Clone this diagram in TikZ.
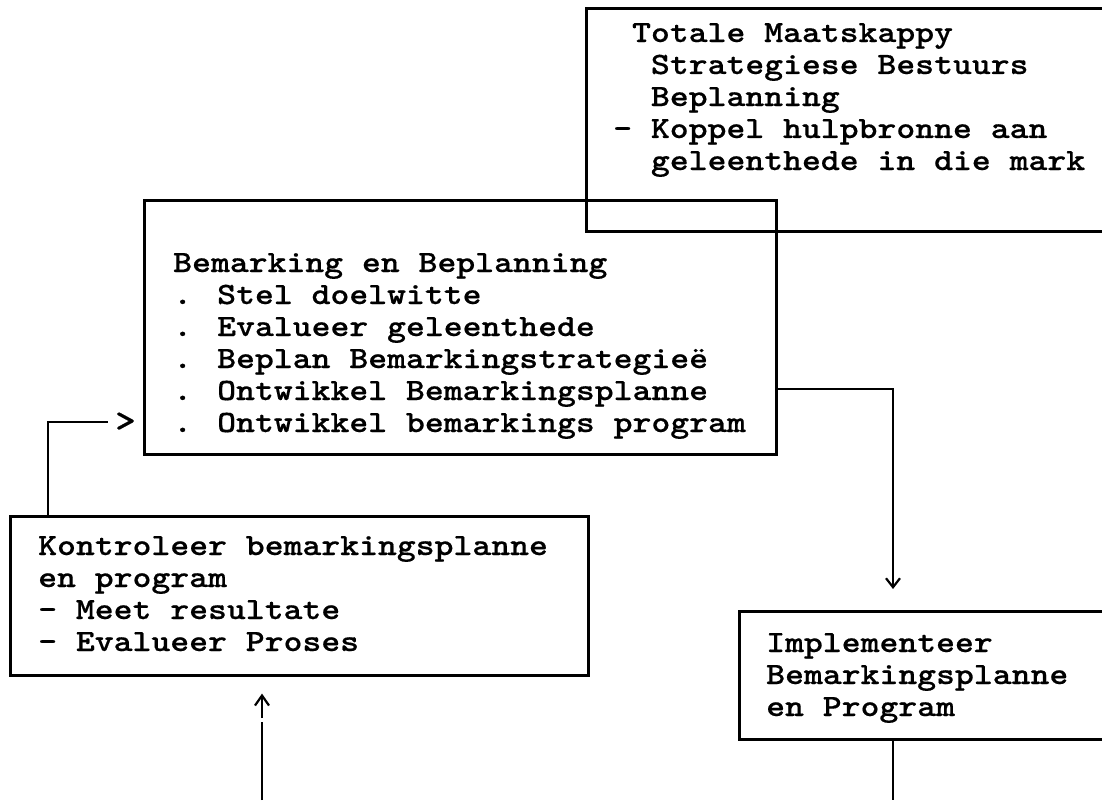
\documentclass[tikz,border=0pt]{standalone}
\usepackage{fontspec}
% heavy slab-serif typewriter face, widened to a 0.6em pitch
\newfontfamily\typewriter{lmmonolt10-bold.otf}[FakeStretch=1.16,FakeBold=0.4]
\usetikzlibrary{arrows.meta,calc}
\tikzset{
  panel/.style={draw, line width=2.6pt, rectangle, inner sep=0pt, anchor=north west},
  boxtext/.style={anchor=base west, inner sep=0pt,
                  font=\typewriter\fontsize{31}{32}\selectfont},
  link/.style={line width=2.2pt},
  downtip/.style={-{Straight Barb[length=9pt,width=14pt]}},
  uptip/.style={-{Straight Barb[length=10pt,width=14pt]}},
}
\begin{document}
\begin{tikzpicture}[x=1pt,y=-1pt]
\useasboundingbox (0,0) rectangle (1102,800);
\clip (0,0) rectangle (1102,800);
\fill[white] (0,0) rectangle (1102,800);

% frames
\node[panel, minimum width=560pt, minimum height=223pt] (strat) at (585,7) {};
\node[panel, minimum width=632pt, minimum height=254pt] (plan)  at (143,199) {};
\node[panel, minimum width=578pt, minimum height=159pt] (ctrl)  at (9,515) {};
\node[panel, minimum width=420pt, minimum height=128pt] (impl)  at (738,610) {};

% texts
\node[boxtext] (strattext) at (613,42) {\begin{tabular}[t]{@{}l@{}}
\hphantom{-}Totale Maatskappy\\
\hphantom{--}Strategiese Bestuurs\\
\hphantom{--}Beplanning\\
-\hphantom{-}Koppel hulpbronne aan\\
\hphantom{--}geleenthede in die mark
\end{tabular}};

\node[boxtext] (plantext) at (173,272) {\begin{tabular}[t]{@{}l@{}}
Bemarking en Beplanning\\
. Stel doelwitte\\
. Evalueer geleenthede\\
. Beplan Bemarkingstrategieë\\
. Ontwikkel Bemarkingsplanne\\
. Ontwikkel bemarkings program
\end{tabular}};

\node[boxtext] (ctrltext) at (38,555) {\begin{tabular}[t]{@{}l@{}}
Kontroleer bemarkingsplanne\\
en program\\
- Meet resultate\\
- Evalueer Proses
\end{tabular}};

\node[boxtext] (impltext) at (766,652) {\begin{tabular}[t]{@{}l@{}}
Implementeer\\
Bemarkingsplanne\\
en Program
\end{tabular}};

% planning -> implementation
\coordinate (turn) at (893,389);
\draw[link, downtip] (plan.east |- turn) -- (turn) -- ($(impl.north -| turn)+(0,-21)$);

% implementation leaves downwards
\coordinate (implfoot) at (893,800);
\draw[link] (impl.south -| implfoot) -- (implfoot);

% control feeds back into planning
\node[boxtext, anchor=center, font=\typewriter\fontsize{34}{34}\selectfont] (gt) at (125.5,422) {>};
\coordinate (fbx) at (48,0);
\draw[link] (ctrl.north -| fbx) |- ($(gt.west)+(-7,0)$);

% incoming line from below into control
\coordinate (upfoot) at (262,800);
\coordinate (upgap) at (262,722);
\draw[link] (upfoot) -- (upgap);
\draw[link, uptip] ($(upgap)+(0,-4)$) -- ($(ctrl.south -| upfoot)+(0,17)$);
\end{tikzpicture}
\end{document}
